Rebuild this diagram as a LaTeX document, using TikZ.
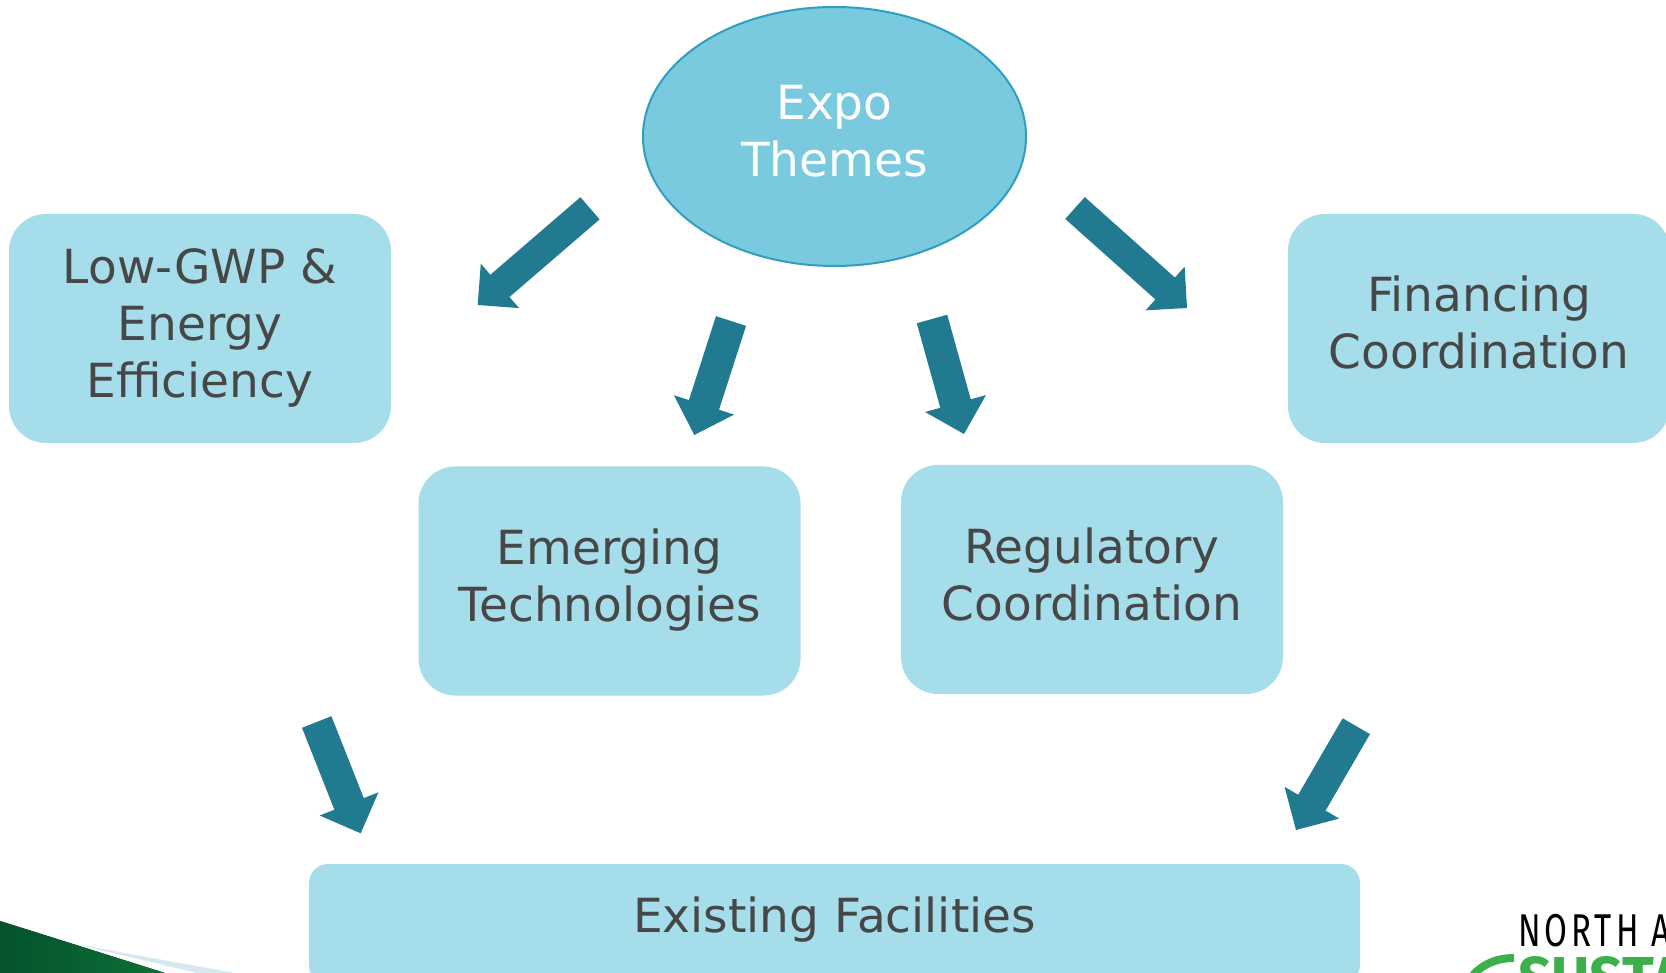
\documentclass[tikz,border=0pt]{standalone}
\usepackage{fontspec}
\setmainfont{DejaVu Sans}
\newfontfamily\logofont[LetterSpace=12]{Fira Sans}
\newfontfamily\logoboldfont{Fira Sans}
\usetikzlibrary{arrows.meta,shapes.geometric}
\definecolor{boxfill}{HTML}{A5DDEB}
\definecolor{ellfill}{HTML}{7ACADF}
\definecolor{ellline}{HTML}{2F9FBD}
\definecolor{arrowcol}{HTML}{227A90}
\definecolor{textcol}{HTML}{474747}
\definecolor{logogreen}{HTML}{3CB04A}
\definecolor{sliver}{HTML}{D6E9F0}
\definecolor{greenleft}{HTML}{04532B}
\definecolor{greenright}{HTML}{0C7038}
\newcommand{\ls}{\rule[-12pt]{0pt}{48pt}}
% a solid head into which the shaft runs, so that no seam shows between them
\pgfdeclarearrow{
  name=BlockHead,
  parameters={\the\pgfarrowlength,\the\pgfarrowwidth},
  setup code={
    \pgfarrowssettipend{\pgfarrowlength}
    \pgfarrowssetbackend{0pt}
    \pgfarrowssetvisualbackend{0pt}
    \pgfarrowssetlineend{.3\pgfarrowlength}
    \pgfarrowssavethe\pgfarrowlength
    \pgfarrowssavethe\pgfarrowwidth
  },
  drawing code={
    \pgfpathmoveto{\pgfqpoint{\pgfarrowlength}{0pt}}
    \pgfpathlineto{\pgfqpoint{0pt}{.5\pgfarrowwidth}}
    \pgfpathlineto{\pgfqpoint{0pt}{-.5\pgfarrowwidth}}
    \pgfpathclose
    \pgfusepathqfill
  },
  defaults={length=10pt,width=10pt}
}
\tikzset{
  labeltext/.style={font=\fontsize{47}{57}\selectfont,align=center,inner sep=0pt},
  roundbox/.style={labeltext,fill=boxfill,draw=none,rounded corners=37pt,text=textcol,
    minimum width=382pt,minimum height=229pt},
  blockarrow/.style={draw=arrowcol,fill=arrowcol,line width=#1,
    -{BlockHead[length=#1,width=2*#1,color=arrowcol,fill=arrowcol]}},
  blockarrow/.default=30pt,
}
\begin{document}
\begin{tikzpicture}[x=1pt,y=-1pt]
\clip (0,0) rectangle (1666,973);
\fill[white] (0,0) rectangle (1666,973);
% corner decoration
\fill[sliver] (75,944) -- (235,973) -- (197,973) -- cycle;
\fill[left color=greenleft,right color=greenright] (0,921) -- (165,973) -- (0,973) -- cycle;
% logo
\node[anchor=base west,inner sep=0pt,font=\logofont\fontsize{46}{46}\selectfont,xscale=0.72] (logoa) at (1518,946) {NORTH A};
\node[anchor=base west,inner sep=0pt,font=\logoboldfont\bfseries\fontsize{62}{62}\selectfont,text=logogreen,xscale=0.95] (logob) at (1518,1000) {SUSTA};
\draw[logogreen,line width=8pt] (1473,975) .. controls (1483,964) and (1497,958) .. (1514,958);
% nodes
\node[ellipse,fill=ellfill,draw=ellline,line width=2pt,minimum width=383pt,minimum height=259pt,labeltext,text=white] (expo) at (834.5,136.5) {\ls Expo\\\ls Themes};
\node[roundbox] (low) at (200,328.5) {\ls Low-GWP \&\\\ls Energy\\\ls Efficiency};
\node[roundbox] (fin) at (1479,328.5) {\ls Financing\\\ls Coordination};
\node[roundbox] (eme) at (609.5,581) {\ls Emerging\\\ls Technologies};
\node[roundbox] (reg) at (1092,579.5) {\ls Regulatory\\\ls Coordination};
\node[roundbox,rounded corners=19pt,minimum width=1051pt,minimum height=120pt] (exi) at (834.5,924) {};
\node[labeltext,text=textcol] (exit) at (834.5,920) {\ls Existing Facilities};
% arrow ends
\coordinate (a1s) at (590,208.3);
\coordinate (a1e) at (477.7,305);
\coordinate (a2s) at (731,321);
\coordinate (a2e) at (694.3,435);
\coordinate (a3s) at (932,319);
\coordinate (a3e) at (964,434);
\coordinate (a4s) at (1075,208);
\coordinate (a4e) at (1187,308);
\coordinate (a5s) at (316.7,722);
\coordinate (a5e) at (360.7,833.3);
\coordinate (a6s) at (1356.3,726.2);
\coordinate (a6e) at (1296,830);
\draw[blockarrow=29.3pt] (a1s) -- (a1e);
\draw[blockarrow=31.6pt] (a2s) -- (a2e);
\draw[blockarrow=31.6pt] (a3s) -- (a3e);
\draw[blockarrow=29.3pt] (a4s) -- (a4e);
\draw[blockarrow=31.6pt] (a5s) -- (a5e);
\draw[blockarrow=31.6pt] (a6s) -- (a6e);
\end{tikzpicture}
\end{document}
